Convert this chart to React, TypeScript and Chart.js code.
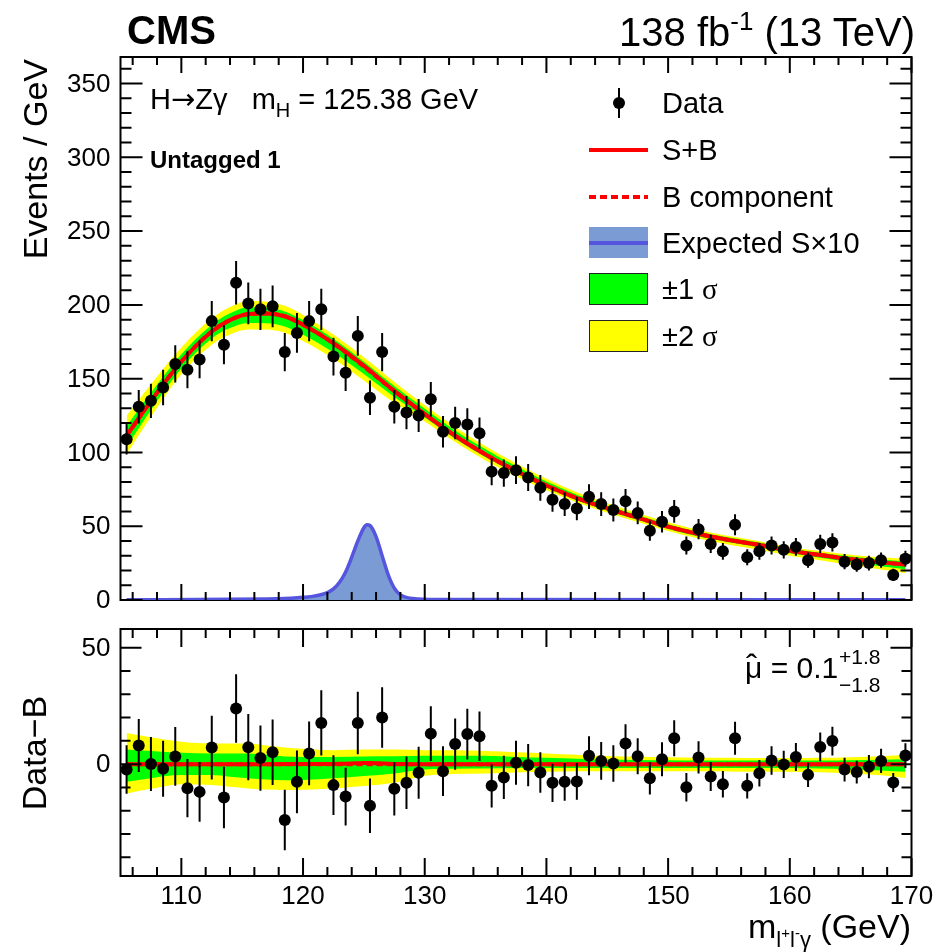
import React, { useEffect, useRef } from "react";
import { Chart, registerables } from "chart.js";

Chart.register(...registerables);

const FONT = '"Liberation Sans", Arial, Helvetica, sans-serif';

// ---------------- data ----------------
const binCenters = [
  105.5, 106.5, 107.5, 108.5, 109.5, 110.5, 111.5, 112.5, 113.5, 114.5,
  115.5, 116.5, 117.5, 118.5, 119.5, 120.5, 121.5, 122.5, 123.5, 124.5,
  125.5, 126.5, 127.5, 128.5, 129.5, 130.5, 131.5, 132.5, 133.5, 134.5,
  135.5, 136.5, 137.5, 138.5, 139.5, 140.5, 141.5, 142.5, 143.5, 144.5,
  145.5, 146.5, 147.5, 148.5, 149.5, 150.5, 151.5, 152.5, 153.5, 154.5,
  155.5, 156.5, 157.5, 158.5, 159.5, 160.5, 161.5, 162.5, 163.5, 164.5,
  165.5, 166.5, 167.5, 168.5, 169.5,
];

const dataCounts = [
  109, 131, 135, 144, 160, 156, 163, 189, 173, 215,
  201, 197, 199, 168, 181, 189, 197, 165, 154, 179,
  137, 168, 131, 127, 125, 136, 114, 120, 119, 113,
  87, 86, 88, 83, 76, 68, 65, 62, 70, 65,
  61, 67, 59, 47, 53, 60, 37, 48, 38, 33,
  51, 29, 33, 37, 34, 36, 27, 38, 39, 26,
  24, 25, 27, 17, 28,
];

const dataErrors = [
  10.4, 11.4, 11.6, 12.0, 12.6, 12.5, 12.8, 13.7, 13.2, 14.7,
  14.2, 14.0, 14.1, 13.0, 13.5, 13.7, 14.0, 12.8, 12.4, 13.4,
  11.7, 13.0, 11.4, 11.3, 11.2, 11.7, 10.7, 11.0, 10.9, 10.6,
  9.3, 9.3, 9.4, 9.1, 8.7, 8.2, 8.1, 7.9, 8.4, 8.1,
  7.8, 8.2, 7.7, 6.9, 7.3, 7.7, 6.1, 6.9, 6.2, 5.7,
  7.1, 5.4, 5.7, 6.1, 5.8, 6.0, 5.2, 6.2, 6.2, 5.1,
  4.9, 5.0, 5.2, 4.1, 5.3,
];

const dataMinusB = [
  -2.3, 8.0, 0.1, -2.0, 3.3, -10.3, -11.9, 7.1, -14.3, 23.9,
  7.3, 2.6, 5.1, -24.0, -7.6, 4.6, 17.7, -9.0, -13.9, 17.7,
  -17.9, 20.0, -10.6, -8.0, -3.7, 13.1, -3.0, 8.6, 12.9, 12.0,
  -9.3, -5.7, 0.6, -0.4, -3.6, -8.0, -7.6, -7.4, 3.6, 1.4,
  0.3, 8.9, 3.4, -6.1, 2.1, 11.1, -9.9, 2.9, -5.3, -8.6,
  11.1, -9.3, -3.9, 1.6, -0.1, 3.1, -4.6, 7.4, 9.9, -2.3,
  -3.4, -1.1, 1.4, -7.9, 3.7,
];

const fitX = [
  105.5, 107.5, 110, 112.5, 114, 115.5, 117, 118.5, 120, 122.5,
  125, 127.5, 130, 132.5, 135, 137.5, 140, 142.5, 145, 147.5,
  150, 152.5, 155, 157.5, 160, 162.5, 165, 167.5, 169.5,
];
const bkgFit = [
  111.4, 134.8, 161.6, 182.0, 189.7, 193.8, 194.2, 192.3, 186.6, 173.9,
  158.2, 141.6, 126.0, 111.3, 98.6, 87.5, 77.6, 69.1, 62.1, 55.8,
  49.7, 44.7, 40.7, 37.3, 33.3, 30.5, 27.7, 25.5, 24.1,
];
const sbFit = [
  111.4, 134.8, 161.6, 182.0, 189.7, 193.8, 194.2, 192.3, 186.6, 174.0,
  158.7, 141.7, 126.0, 111.3, 98.6, 87.5, 77.6, 69.1, 62.1, 55.8,
  49.7, 44.7, 40.7, 37.3, 33.3, 30.5, 27.7, 25.5, 24.1,
];
const band2Up = [
  13.4, 11.5, 9.6, 8.9, 8.9, 8.9, 8.0, 7.1, 6.6, 6.0,
  6.3, 6.3, 6.0, 6.0, 5.6, 5.1, 4.6, 4.0, 3.5, 3.2,
  3.0, 2.8, 2.7, 2.6, 2.6, 2.7, 3.0, 3.4, 3.9,
];
const band1Up = [
  6.3, 5.6, 4.9, 4.6, 4.6, 4.6, 4.0, 3.3, 3.1, 3.1,
  3.3, 3.4, 3.6, 3.6, 3.6, 3.1, 2.7, 2.3, 2.0, 1.8,
  1.7, 1.6, 1.6, 1.6, 1.6, 1.6, 1.7, 1.9, 2.1,
];
const band1Dn = [
  -7.6, -6.0, -4.7, -4.7, -5.4, -6.1, -6.6, -6.9, -6.8, -6.1,
  -5.1, -4.0, -2.3, -2.0, -1.9, -1.7, -1.6, -1.6, -1.6, -1.6,
  -1.6, -1.6, -1.6, -1.7, -1.7, -1.9, -2.2, -2.7, -3.3,
];
const band2Dn = [
  -12.6, -10.6, -8.6, -9.0, -9.7, -10.4, -10.9, -11.1, -11.0, -10.4,
  -9.4, -8.0, -5.0, -4.2, -4.0, -3.6, -3.3, -3.1, -3.0, -3.0,
  -3.0, -3.1, -3.2, -3.3, -3.3, -3.5, -4.0, -4.8, -5.9,
];

const sigX = [
  105.5, 117, 119, 120, 121, 122, 122.5, 123, 123.5, 124, 124.5,
  125, 125.25, 125.5, 126, 126.5, 127, 127.5, 128, 129, 131, 169.5,
];
const sigS10 = [
  0.2, 0.6, 1.2, 1.8, 2.8, 5.0, 7.5, 12, 19, 29, 40,
  49, 51, 50.5, 43, 30, 17, 8, 3.5, 1.0, 0.3, 0.1,
];
const sbMinusB = [
  0.002, 0.006, 0.012, 0.018, 0.028, 0.05, 0.075, 0.12, 0.19, 0.29, 0.4,
  0.49, 0.51, 0.505, 0.43, 0.3, 0.17, 0.08, 0.035, 0.01, 0.003, 0.001,
];
const bResidX = [105.5, 169.5];
const bResidY = [0, 0];

const xTickLabels = [110, 120, 130, 140, 150, 160, 170];
const mainYTickLabels = [0, 50, 100, 150, 200, 250, 300, 350];
const lowerYTickLabels = [0, 50];

// ---------------- helpers ----------------
const pts = (xs: number[], ys: number[]) => xs.map((x, i) => ({ x, y: ys[i] }));
const add = (a: number[], b: number[]) => a.map((v, i) => v + b[i]);

interface AxisCfg {
  xMajorStep: number; xMinorStep: number; yMajorStep: number; yMinorStep: number;
  xMajLen: number; xMinLen: number; yMajLen: number; yMinLen: number;
  yLabels: number[]; xLabels: number[];
}

function rootAxesPlugin(cfg: AxisCfg, err: { xs: number[]; ys: number[]; es: number[] }) {
  return {
    id: "rootAxes",
    beforeDatasetsDraw(chart: any) {
      const { ctx, chartArea: a } = chart;
      ctx.save();
      ctx.strokeStyle = "#000";
      ctx.lineWidth = 2;
      ctx.strokeRect(a.left, a.top, a.right - a.left, a.bottom - a.top);
      ctx.restore();
    },
    beforeDatasetDraw(chart: any, args: any) {
      if (args.index !== 0) return;
      const { ctx, scales } = chart;
      ctx.save();
      ctx.strokeStyle = "#000";
      ctx.lineWidth = 2;
      ctx.beginPath();
      for (let i = 0; i < err.xs.length; i++) {
        const px = scales.x.getPixelForValue(err.xs[i]);
        ctx.moveTo(px, scales.y.getPixelForValue(err.ys[i] - err.es[i]));
        ctx.lineTo(px, scales.y.getPixelForValue(err.ys[i] + err.es[i]));
      }
      ctx.stroke();
      ctx.restore();
    },
    afterDatasetsDraw(chart: any) {
      const { ctx, chartArea: a, scales } = chart;
      const xs = scales.x, ys = scales.y;
      ctx.save();
      ctx.strokeStyle = "#000";
      ctx.lineWidth = 2;
      ctx.beginPath();
      for (let k = Math.ceil(xs.min / cfg.xMinorStep - 1e-9); k * cfg.xMinorStep <= xs.max + 1e-9; k++) {
        const v = k * cfg.xMinorStep;
        const r = v / cfg.xMajorStep;
        const major = Math.abs(r - Math.round(r)) < 1e-6;
        const len = major ? cfg.xMajLen : cfg.xMinLen;
        const px = xs.getPixelForValue(v);
        ctx.moveTo(px, a.bottom); ctx.lineTo(px, a.bottom - len);
        ctx.moveTo(px, a.top); ctx.lineTo(px, a.top + len);
      }
      for (let k = Math.ceil(ys.min / cfg.yMinorStep - 1e-9); k * cfg.yMinorStep <= ys.max + 1e-9; k++) {
        const v = k * cfg.yMinorStep;
        const r = v / cfg.yMajorStep;
        const major = Math.abs(r - Math.round(r)) < 1e-6;
        const len = major ? cfg.yMajLen : cfg.yMinLen;
        const py = ys.getPixelForValue(v);
        ctx.moveTo(a.left, py); ctx.lineTo(a.left + len, py);
        ctx.moveTo(a.right, py); ctx.lineTo(a.right - len, py);
      }
      ctx.stroke();
      ctx.fillStyle = "#000";
      ctx.font = `26px ${FONT}`;
      ctx.textAlign = "right";
      ctx.textBaseline = "middle";
      for (const v of cfg.yLabels) ctx.fillText(String(v), a.left - 10, ys.getPixelForValue(v) + 1);
      ctx.textAlign = "center";
      ctx.textBaseline = "alphabetic";
      for (const v of cfg.xLabels) ctx.fillText(String(v), xs.getPixelForValue(v), a.bottom + 28);
      ctx.restore();
    },
  };
}

const lineDs = (label: string, data: any[], extra: any) => ({
  label, data, pointRadius: 0, fill: false, cubicInterpolationMode: "monotone",
  borderColor: "rgba(0,0,0,0)", borderWidth: 1, ...extra,
});

function mainConfig(): any {
  return {
    type: "line",
    data: {
      datasets: [
        { label: "Data", data: pts(binCenters, dataCounts), showLine: false, pointRadius: 6,
          pointBackgroundColor: "#000", pointBorderWidth: 0, pointBorderColor: "#000", order: 0 },
        lineDs("Expected Sx10", pts(sigX, sigS10), { borderColor: "#5555dd", borderWidth: 3.5,
          backgroundColor: "#7b9bd4", fill: "origin", order: 1 }),
        lineDs("S+B", pts(fitX, sbFit), { borderColor: "#ff0000", borderWidth: 4, order: 2 }),
        lineDs("B component", pts(fitX, bkgFit), { borderColor: "#ff0000", borderWidth: 4, borderDash: [6, 4], order: 3 }),
        lineDs("1s up", pts(fitX, add(bkgFit, band1Up)), { fill: "+1", backgroundColor: "#00ff00", order: 4 }),
        lineDs("1s dn", pts(fitX, add(bkgFit, band1Dn)), { order: 5 }),
        lineDs("2s up", pts(fitX, add(bkgFit, band2Up)), { fill: "+1", backgroundColor: "#ffff00", order: 6 }),
        lineDs("2s dn", pts(fitX, add(bkgFit, band2Dn)), { order: 7 }),
      ],
    },
    options: {
      responsive: false, animation: false, devicePixelRatio: 1, events: [],
      layout: { padding: { left: 120.5, right: 37.5, top: 57, bottom: 15 } },
      scales: {
        x: { type: "linear", min: 105, max: 170, display: false },
        y: { type: "linear", min: 0, max: 368, display: false },
      },
      plugins: { legend: { display: false }, tooltip: { enabled: false } },
    },
    plugins: [rootAxesPlugin({
      xMajorStep: 10, xMinorStep: 2, yMajorStep: 50, yMinorStep: 10,
      xMajLen: 16, xMinLen: 8, yMajLen: 22, yMinLen: 11,
      yLabels: mainYTickLabels, xLabels: [],
    }, { xs: binCenters, ys: dataCounts, es: dataErrors })],
  };
}

function lowerConfig(): any {
  return {
    type: "line",
    data: {
      datasets: [
        { label: "Data-B", data: pts(binCenters, dataMinusB), showLine: false, pointRadius: 6,
          pointBackgroundColor: "#000", pointBorderWidth: 0, pointBorderColor: "#000", order: 0 },
        lineDs("S+B-B", pts(sigX, sbMinusB), { borderColor: "#ff0000", borderWidth: 4, order: 1 }),
        lineDs("B-B", pts(bResidX, bResidY), { borderColor: "#ff0000", borderWidth: 4, borderDash: [6, 4], order: 2 }),
        lineDs("1s up", pts(fitX, band1Up), { fill: "+1", backgroundColor: "#00ff00", order: 3 }),
        lineDs("1s dn", pts(fitX, band1Dn), { order: 4 }),
        lineDs("2s up", pts(fitX, band2Up), { fill: "+1", backgroundColor: "#ffff00", order: 5 }),
        lineDs("2s dn", pts(fitX, band2Dn), { order: 6 }),
      ],
    },
    options: {
      responsive: false, animation: false, devicePixelRatio: 1, events: [],
      layout: { padding: { left: 120.5, right: 37.5, top: 14, bottom: 76 } },
      scales: {
        x: { type: "linear", min: 105, max: 170, display: false },
        y: { type: "linear", min: -48, max: 58, display: false },
      },
      plugins: { legend: { display: false }, tooltip: { enabled: false } },
    },
    plugins: [rootAxesPlugin({
      xMajorStep: 10, xMinorStep: 2, yMajorStep: 50, yMinorStep: 10,
      xMajLen: 18, xMinLen: 9, yMajLen: 21, yMinLen: 10,
      yLabels: lowerYTickLabels, xLabels: xTickLabels,
    }, { xs: binCenters, ys: dataMinusB, es: dataErrors })],
  };
}

// ---------------- text helpers ----------------
type TP = { x: number; y: number; size: number; bold?: boolean; align?: "left" | "right" | "center"; family?: string; children: React.ReactNode };
function T({ x, y, size, bold, align = "left", family, children }: TP) {
  const style: React.CSSProperties = {
    position: "absolute", top: y - 0.8465 * size, fontSize: size, lineHeight: `${size}px`,
    fontWeight: bold ? "bold" : "normal", whiteSpace: "nowrap", fontFamily: family || FONT, color: "#000",
  };
  if (align === "left") style.left = x;
  else if (align === "right") style.right = 949 - x;
  else { style.left = x; style.transform = "translateX(-50%)"; }
  return <div style={style}>{children}</div>;
}
function S({ size, dy, family, children }: { size: number; dy: number; family?: string; children: React.ReactNode }) {
  return <span style={{ fontSize: size, position: "relative", top: dy, lineHeight: 0, fontFamily: family }}>{children}</span>;
}
function Rot({ xBase, yRef, size, align, children }: { xBase: number; yRef: number; size: number; align: "right" | "center"; children: React.ReactNode }) {
  const W = 320;
  const top = align === "right" ? yRef + W : yRef + W / 2;
  return (
    <div style={{
      position: "absolute", left: xBase - 0.8465 * size, top, width: W, fontSize: size, lineHeight: `${size}px`,
      textAlign: align, transform: "rotate(-90deg)", transformOrigin: "0 0", whiteSpace: "nowrap", fontFamily: FONT,
    }}>{children}</div>
  );
}
const abs = (l: number, t: number, w: number, h: number, extra: React.CSSProperties = {}): React.CSSProperties => ({
  position: "absolute", left: l, top: t, width: w, height: h, boxSizing: "border-box", ...extra,
});

export default function App() {
  const topRef = useRef<HTMLCanvasElement>(null);
  const botRef = useRef<HTMLCanvasElement>(null);
  useEffect(() => {
    const c1 = new Chart(topRef.current as HTMLCanvasElement, mainConfig());
    const c2 = new Chart(botRef.current as HTMLCanvasElement, lowerConfig());
    return () => { c1.destroy(); c2.destroy(); };
  }, []);
  const serif = '"Liberation Serif", "DejaVu Serif", serif';
  return (
    <div style={{ position: "absolute", left: 0, top: 0, width: 949, height: 952, background: "#fff", fontFamily: FONT, overflow: "hidden" }}>
      <canvas ref={topRef} width={949} height={615} style={{ position: "absolute", left: 0, top: 0, width: 949, height: 615 }} />
      <canvas ref={botRef} width={949} height={337} style={{ position: "absolute", left: 0, top: 615, width: 949, height: 337 }} />

      <T x={127} y={44} size={40} bold>CMS</T>
      <T x={915} y={46} size={40} align="right">138 fb<S size={26} dy={-16}>-1</S> (13 TeV)</T>

      <Rot xBase={46.5} yRef={59} size={34} align="right">Events / GeV</Rot>
      <Rot xBase={45.5} yRef={752.5} size={34} align="center">Data−B</Rot>

      <T x={911} y={938} size={34} align="right">
        m<S size={22} dy={9}>l<S size={15} dy={-9}>+</S>l<S size={15} dy={-9}>-</S>γ</S> (GeV)
      </T>

      <T x={150} y={110} size={29}>
        H<span style={{ fontFamily: '"DejaVu Sans", sans-serif' }}>→</span>Zγ{"\u00a0\u00a0\u00a0"}m<S size={20} dy={8}>H</S> = 125.38 GeV
      </T>
      <T x={150} y={168} size={24} bold>Untagged 1</T>

      {/* legend symbols */}
      <div style={abs(618, 88, 2, 30, { background: "#000" })} />
      <div style={abs(613, 97.3, 12, 12, { background: "#000", borderRadius: "50%" })} />
      <div style={abs(589, 148, 59, 4, { background: "#ff0000" })} />
      <div style={abs(589, 194.7, 59, 4, { background: "repeating-linear-gradient(to right, #ff0000 0px, #ff0000 7px, transparent 7px, transparent 11px)" })} />
      <div style={abs(589, 227, 59, 31, { background: "#7b9bd4" })} />
      <div style={abs(589, 240.7, 59, 4, { background: "#5555dd" })} />
      <div style={abs(589, 273, 59, 32, { background: "#00ff00", border: "1.5px solid #222" })} />
      <div style={abs(589, 320, 59, 32, { background: "#ffff00", border: "1.5px solid #222" })} />

      <T x={662} y={113.7} size={29}>Data</T>
      <T x={662} y={160.4} size={29}>S+B</T>
      <T x={662} y={207.1} size={29}>B component</T>
      <T x={662} y={253.1} size={29}>Expected S×10</T>
      <T x={662} y={299.7} size={29}>±1 <span style={{ fontFamily: serif }}>σ</span></T>
      <T x={662} y={346.4} size={29}>±2 <span style={{ fontFamily: serif }}>σ</span></T>

      <T x={745} y={678} size={30}>
        <span style={{ position: "relative", display: "inline-block" }}>
          μ
          <span style={{ position: "absolute", left: 1, top: -4, fontSize: 34, lineHeight: "34px" }}>ˆ</span>
        </span>
        {" = 0.1"}
      </T>
      <T x={839} y={664} size={21}>+1.8</T>
      <T x={839} y={692} size={21}>−1.8</T>
    </div>
  );
}
